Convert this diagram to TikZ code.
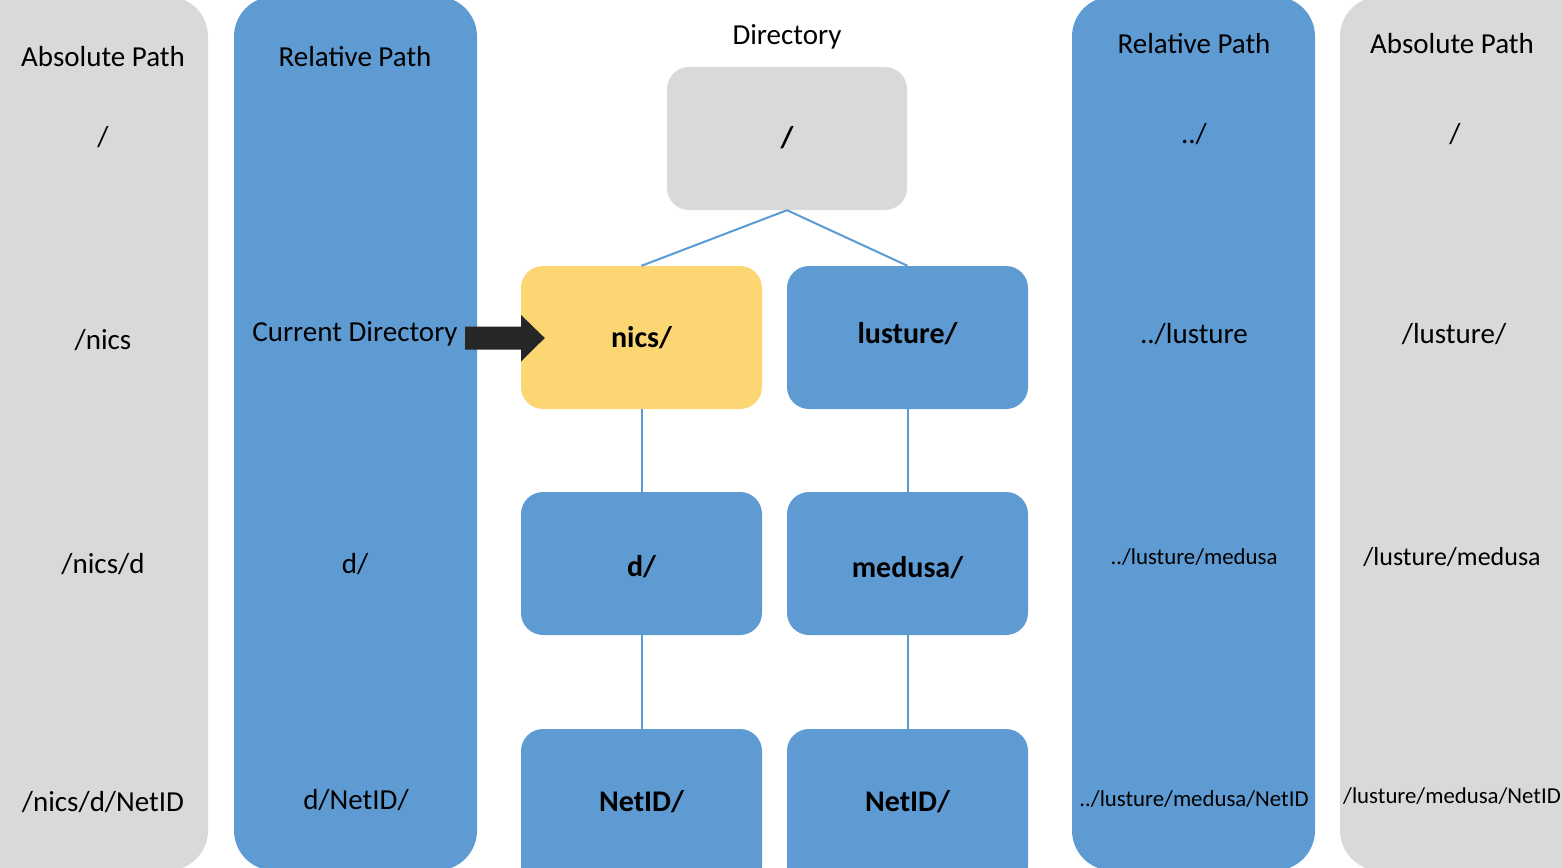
\documentclass[tikz,border=0pt]{standalone}
\usepackage{fontspec}
\setmainfont{Carlito}
\usetikzlibrary{calc}
\definecolor{cgray}{HTML}{D9D9D9}
\definecolor{cblue}{HTML}{5F9BD3}
\definecolor{cyel}{HTML}{FCD672}
\definecolor{cline}{HTML}{5B9BD5}
\definecolor{carrow}{HTML}{262626}
\tikzset{
  col/.style={rectangle, rounded corners=40, inner sep=0, minimum width=#1},
  box/.style={rectangle, rounded corners=22, inner sep=0, minimum width=241, minimum height=143},
  lbl/.style={inner sep=0, font=\fontsize{30}{34}\selectfont\bfseries},
  big/.style={font=\fontsize{29}{34}\selectfont},
  mid/.style={font=\fontsize{26}{30}\selectfont},
  small/.style={font=\fontsize{22.8}{27}\selectfont},
  link/.style={draw=cline, line width=2},
}
\begin{document}
\begin{tikzpicture}[x=1pt,y=-1pt]
\useasboundingbox (0,0) rectangle (1562,867);
\clip (0,0) rectangle (1562,867);
% columns
\node[col=250, minimum height=874, fill=cgray] (absL) at (83,433.5) {};
\node[col=243, minimum height=874, fill=cblue] (relL) at (355.5,433.5) {};
\node[col=243, minimum height=874, fill=cblue] (relR) at (1193.5,433.5) {};
\node[col=250, minimum height=874, fill=cgray] (absR) at (1465,433.5) {};
% left absolute
\node[big] (la0) at (103,57) {Absolute Path};
\node[big] (la1) at (103,137) {/};
\node[big] (la2) at (103,340) {/nics};
\node[big] (la3) at (103,564) {/nics/d};
\node[big] (la4) at (103,802) {/nics/d/NetID};
% left relative
\node[big] (lr0) at (355,57) {Relative Path};
\node[big] (lr2) at (355,334) {Current Directory};
\node[big] (lr3) at (355,564) {d/};
\node[big] (lr4) at (356,800) {d/NetID/};
% right relative
\node[big] (rr0) at (1194,44) {Relative Path};
\node[big] (rr1) at (1194,134) {../};
\node[big] (rr2) at (1194,334) {../lusture};
\node[small] (rr3) at (1194,557) {../lusture/medusa};
\node[small] (rr4) at (1194,799) {../lusture/medusa/NetID};
% right absolute
\node[big] (ra0) at (1452,44) {Absolute Path};
\node[big] (ra1) at (1455,134) {/};
\node[big] (ra2) at (1454,334) {/lusture/};
\node[mid] (ra3) at (1452,557) {/lusture/medusa};
\node[small] (ra4) at (1452,796) {/lusture/medusa/NetID};
% tree
\node[big] (dirt) at (787,36.5) {Directory};
\node[box, fill=cgray, minimum width=240] (root) at (787,138.5) {};
\node[box, fill=cyel] (nics) at (641.5,337.5) {};
\node[box, fill=cblue] (lus) at (907.5,337.5) {};
\node[box, fill=cblue] (d) at (641.5,563.5) {};
\node[box, fill=cblue] (med) at (907.5,563.5) {};
\node[box, fill=cblue, minimum height=160] (net1) at (641.5,809) {};
\node[box, fill=cblue, minimum height=160] (net2) at (907.5,809) {};
\node[lbl] (roott) at (787,138) {/};
\node[lbl] (nicst) at (641.5,338) {nics/};
\node[lbl] (lust) at (907.5,334) {lusture/};
\node[lbl] (dt) at (641.5,567) {d/};
\node[lbl] (medt) at (907.5,568) {medusa/};
\node[lbl] (net1t) at (641.5,802) {NetID/};
\node[lbl] (net2t) at (907.5,802) {NetID/};
\draw[link] (root.south) -- (nics.north);
\draw[link] (root.south) -- (lus.north);
\draw[link] (nics.south) -- (d.north);
\draw[link] (lus.south) -- (med.north);
\draw[link] (d.south) -- (net1.north);
\draw[link] (med.south) -- (net2.north);
% arrow
\coordinate (aS) at (465,338);
\coordinate (aT) at ($(nics.west)+(24,0.5)$);
\fill[carrow] ($(aS)+(0,-11.5)$) -- (521,326.5) -- (521,315) -- (aT) -- (521,361.5) -- (521,349.5) -- ($(aS)+(0,11.5)$) -- cycle;
\end{tikzpicture}
\end{document}
